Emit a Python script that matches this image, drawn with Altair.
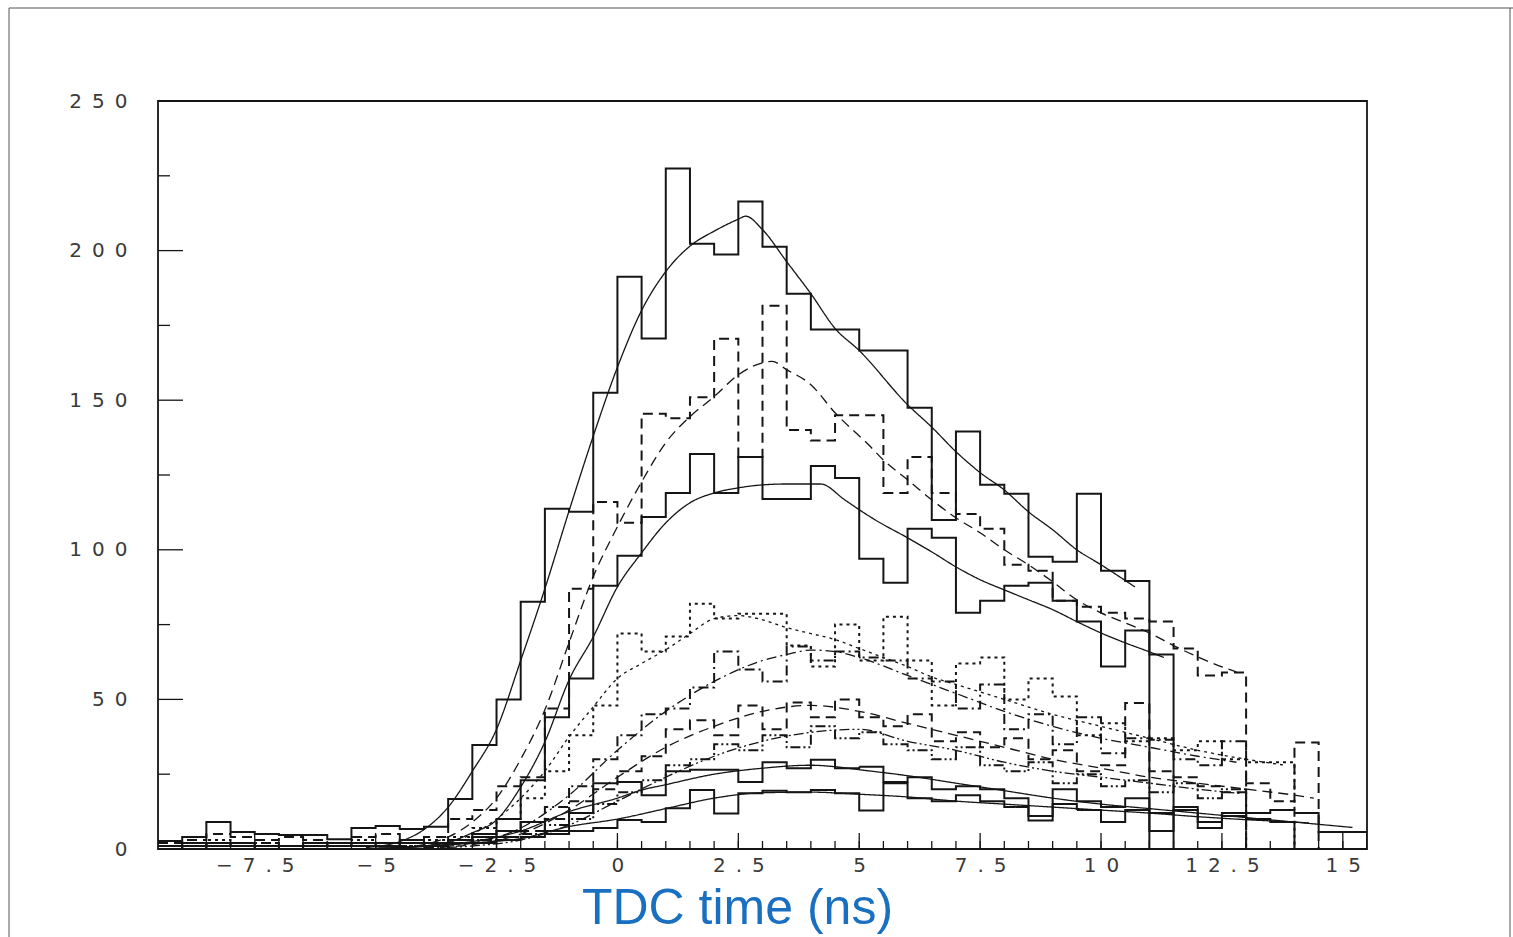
import altair as alt
import pandas as pd

# ---------------- data ----------------
EDGES = [-9.5, -9.0, -8.5, -8.0, -7.5, -7.0, -6.5, -6.0, -5.5, -5.0, -4.5, -4.0,
         -3.5, -3.0, -2.5, -2.0, -1.5, -1.0, -0.5, 0.0, 0.5, 1.0, 1.5, 2.0, 2.5,
         3.0, 3.5, 4.0, 4.5, 5.0, 5.5, 6.0, 6.5, 7.0, 7.5, 8.0, 8.5, 9.0, 9.5,
         10.0, 10.5, 11.0, 11.5, 12.0, 12.5, 13.0, 13.5, 14.0, 14.5, 15.0, 15.5]

X_LABELS = [-7.5, -5, -2.5, 0, 2.5, 5, 7.5, 10, 12.5, 15]
Y_LABELS = [0, 50, 100, 150, 200, 250]
Y_MINOR = [25, 75, 125, 175, 225]
Y_MAJOR = [50, 100, 150, 200]

# histogram contents, bins of 0.5 ns starting at -9.5
H1 = [2.7, 4, 9, 5.7, 5, 4.7, 4.7, 3.3, 7, 7.7, 6.7, 7.4,
      16.7, 34.8, 50, 82.6, 113.7, 112.7, 152.5, 191.3, 170.6, 227.4, 202.3, 198.7,
      216.4, 201.3, 185.6, 173.6, 173.6, 166.6, 166.6, 147.5, 110, 139.5, 121.7,
      118.7, 97.7, 96, 118.7, 93, 89.6]
H2 = [2, 3, 5, 4, 3, 4, 3, 2, 4, 5, 3, 4,
      10, 13, 21, 24, 47, 87, 116, 109, 145.5, 144, 151, 170.5, 131, 181.6, 140,
      136.5, 145, 145, 119, 131, 119, 112, 107, 95, 93, 83, 81, 79, 77, 76, 67, 58, 59]
H3 = [1, 2, 1, 2, 1, 1, 2, 1, 2, 2, 3, 2,
      3, 5, 10, 23, 44, 57, 88, 98, 111, 119, 132, 119, 131, 117, 117, 128, 124,
      97, 89, 107, 104, 79, 83, 88, 89, 83, 76, 61, 73, 65]
H4 = [1, 2, 3, 2, 2, 1, 2, 2, 3, 2, 2, 3,
      4, 7, 10, 17, 26, 38, 48, 72, 66, 71, 82, 77, 78.6, 78.6, 68, 61, 75, 63,
      77.6, 63, 48, 62, 64, 50, 57, 51, 38, 42, 36, 37, 33, 36, 30, 29, 29]
H5 = [0, 1, 1, 0, 1, 1, 0, 1, 1, 2, 1, 2,
      3, 4, 6, 9, 14, 21, 30, 38, 45, 47, 54, 66, 60, 56, 67.7, 63, 66, 64, 63,
      57, 56, 47, 55, 40, 45, 35, 44, 32, 37, 36.5, 30, 28, 36]
H6 = [1, 2, 1, 1, 2, 1, 1, 2, 2, 1, 2, 1,
      2, 3, 4, 6, 10, 16, 20, 26, 31, 40, 43, 38, 48, 40, 49, 44, 50, 44, 41, 45,
      36, 39, 34, 37, 30, 33, 26, 28, 48.8, 26, 24, 21, 19, 22, 16, 35.6]
H7 = [1, 1, 2, 1, 1, 1, 2, 1, 2, 1, 2, 2,
      3, 4, 6, 9, 6, 12, 22, 22.4, 18, 26, 26.5, 26.5, 22.4, 29, 27, 29.8, 27,
      27.5, 22.4, 24, 20, 21, 20, 17, 9.5, 20, 16, 14, 17, 12, 13, 7, 11, 12, 13,
      12, 5.7, 5.7]
H8 = [1, 0, 1, 1, 0, 1, 1, 1, 1, 1, 2, 1,
      2, 2, 3, 4, 5, 6, 7, 9.7, 9, 13.6, 19.7, 11.9, 18.6, 19.5, 19, 19.7, 18.6,
      12.9, 22, 17, 16, 18, 16, 14, 11, 15, 13, 9, 13, 6, 14, 9, 12, 10, 9]
H9 = [0, 1, 0, 1, 1, 0, 1, 1, 1, 1, 1, 2,
      2, 3, 4, 5, 8, 10, 15, 19, 23, 28, 30, 35, 33, 38, 34, 41, 37, 39, 35, 33,
      30, 34, 28, 26, 29, 22, 25, 21, 23, 19, 22, 17, 20]

# fitted curves
C1_X = [-5.2, -4.5, -4, -3.5, -3, -2.5, -2, -1.5, -1, -0.5, 0, 0.5, 1, 1.5, 2, 2.5,
        2.65, 3, 3.5, 4, 4.5, 5, 6, 6.5, 7, 7.5, 8, 8.5, 9, 9.5, 10, 10.7]
C1_Y = [0.5, 2.5, 6.5, 14, 26, 40, 63, 87, 113, 138, 161, 180, 193, 201.5,
        206.5, 210.5, 211.5, 207, 196.3, 185.6, 174, 166.6, 148.5, 141, 132.8, 125.8,
        120, 112.7, 106.7, 100, 95, 87.6]
C2_X = [-4.5, -4, -3.5, -3, -2.5, -2, -1.5, -1, -0.5, 0, 0.5, 1, 1.5, 2, 2.5, 3,
        3.2, 3.5, 4, 4.5, 5.2, 5.5, 6, 6.5, 7, 7.5, 8, 8.5, 9, 9.5, 10, 10.5, 11,
        11.5, 12, 12.5, 12.8]
C2_Y = [0.5, 1.5, 4, 9, 17, 30, 46.5, 69, 91, 107.7, 122.7, 135.8, 144.5, 151.2,
        158.5, 162.5, 163, 160.2, 155.2, 145.8, 135, 130, 123.4, 116.7, 110.7,
        105.7, 100, 95, 89.3, 83.3, 78.9, 75.6, 72.2, 68, 64.2, 60.9, 59.2]
C3_X = [-4.5, -4, -3.5, -3, -2.5, -2, -1.5, -1, -0.5, 0, 0.5, 1, 1.5, 2, 2.5, 3,
        3.5, 4.2, 4.7, 5, 5.33, 6, 6.5, 7, 7.5, 8, 8.5, 9, 9.5, 10, 10.5, 11, 11.3]
C3_Y = [0.4, 1, 2.3, 5.4, 9.7, 20.7, 35.8, 56.5, 70.9, 87.6, 99, 109, 115.7, 119,
        120.7, 121.7, 122, 122, 116.7, 113.4, 110, 104, 99.3, 94.3, 90, 86.6, 83.3,
        80, 76, 72.2, 68.9, 65.9, 64]
C4_X = [-4, -3, -2, -1.5, -1, -0.5, 0, 0.5, 1, 1.5, 2, 2.5, 3, 3.5, 4, 4.5, 5, 5.5,
        6, 6.5, 7, 7.5, 8, 9, 10, 11, 12, 13, 13.8]
C4_Y = [1, 5, 17, 26, 37.5, 47.5, 57, 62, 66.6, 72, 77, 78, 76.6, 74, 72, 70, 67,
        64, 61, 57.5, 55, 52.5, 50, 45, 41, 37, 33, 30, 28]
C5_X = [-4, -3, -2, -1, 0, 1, 2, 3, 3.5, 4, 4.5, 5, 6, 7, 8, 9, 10, 11, 12, 12.8]
C5_Y = [0.5, 2, 7, 18, 33, 46, 56, 63, 65, 66.5, 66, 64, 58, 52, 46, 41, 37, 34,
        31, 29]
C6_X = [-4, -3, -2, -1, 0, 1, 2, 3, 4, 5, 6, 7, 8, 9, 10, 11, 12, 13, 14, 14.4]
C6_Y = [0.3, 1.5, 5, 13, 24, 34, 41, 46, 48, 46, 42, 38, 34, 30, 27, 24, 22, 20,
        18, 17]
C7_X = [-5, -4, -3, -2, -1, 0, 0.5, 1, 2, 3, 4, 4.5, 5, 6, 7, 8, 9, 10, 11, 12, 13,
        14, 15, 15.2]
C7_Y = [0.2, 1, 2.5, 6, 12.5, 17, 19.7, 21.5, 25, 27, 28, 27.5, 26.5, 24.5, 22,
        19.5, 17, 15, 13.5, 12, 10.5, 9, 7.5, 7.2]
C8_X = [-5, -4, -3, -2, -1, 0, 1, 2, 3, 4, 5, 6, 7, 8, 9, 10, 11, 12, 13, 14, 14.3]
C8_Y = [0.3, 0.8, 2, 3.5, 7.5, 10, 13.5, 17, 18.8, 19, 18.3, 17.4, 16, 15, 14, 13,
        12, 10.8, 9.8, 9, 8.7]
C9_X = [-4, -3, -2, -1, 0, 1, 2, 3, 4, 5, 6, 7, 8, 9, 10, 11, 12, 12.9]
C9_Y = [0.3, 1, 3, 8, 16, 24, 31, 36, 39, 40, 36, 33, 29, 26, 24, 22, 20, 18.5]

SOLID = [1, 0]
DASH = [10, 6]
DOT = [3, 4]
DASHDOT = [10, 4, 2, 4]
DASHDOTDOT = [10, 3, 2, 3, 2, 3]

HISTS = [("h1", H1, SOLID), ("h2", H2, DASH), ("h3", H3, SOLID), ("h4", H4, DOT),
         ("h5", H5, DASHDOT), ("h6", H6, DASH), ("h7", H7, SOLID), ("h8", H8, SOLID),
         ("h9", H9, DASHDOTDOT)]
CURVES = [("c1", C1_X, C1_Y, SOLID), ("c2", C2_X, C2_Y, DASH), ("c3", C3_X, C3_Y, SOLID),
          ("c4", C4_X, C4_Y, DOT), ("c5", C5_X, C5_Y, DASHDOT), ("c6", C6_X, C6_Y, DASH),
          ("c7", C7_X, C7_Y, SOLID), ("c8", C8_X, C8_Y, SOLID), ("c9", C9_X, C9_Y, DASHDOTDOT)]

# ---------------- tables ----------------
hrows = []
for name, vals, _ in HISTS:
    for i, v in enumerate(vals):
        hrows.append({"s": name, "x": EDGES[i], "y": v, "o": i})
    hrows.append({"s": name, "x": EDGES[len(vals)], "y": 0, "o": len(vals)})
hdf = pd.DataFrame(hrows)

crows = []
for name, xs, ys, _ in CURVES:
    for i, (a, b) in enumerate(zip(xs, ys)):
        crows.append({"s": name, "x": a, "y": b, "o": i})
cdf = pd.DataFrame(crows)

W, H = 1209, 748
INK = "#151515"
LABEL_FONT = "DejaVu Sans"
SPACED = "join(split(datum.label, ''), '\u2002')"

xscale = alt.Scale(domain=[-9.5, 15.5], nice=False, zero=False)
yscale = alt.Scale(domain=[0, 250], nice=False, zero=True)

xaxis = alt.Axis(values=X_LABELS, format=".1~f", tickSize=0, domain=False, grid=False,
                 labelFont=LABEL_FONT, labelFontSize=20, labelColor="#3a3a3a",
                 labelPadding=6, labelExpr=SPACED, labelFlush=False, labelOverlap=False,
                 title="TDC time (ns)", titleFont="Liberation Sans", titleFontSize=50,
                 titleFontWeight="normal", titleColor="#1A70C0", titleX=579, titleY=74,
                 titleAlign="center", titleBaseline="alphabetic")
yaxis = alt.Axis(values=Y_LABELS, format=".1~f", tickSize=0, domain=False, grid=False,
                 labelFont=LABEL_FONT, labelFontSize=20, labelColor="#3a3a3a",
                 labelPadding=31, labelExpr=SPACED, labelFlush=False, labelOverlap=False,
                 title=None)


def xenc(field):
    return alt.X(field + ":Q", scale=xscale, axis=xaxis)


def yenc(field):
    return alt.Y(field + ":Q", scale=yscale, axis=yaxis)


layers = []
for name, _, dash in HISTS:
    layers.append(
        alt.Chart(hdf).transform_filter(alt.datum.s == name)
        .mark_line(interpolate="step-after", strokeDash=dash, strokeWidth=2,
                   color=INK, clip=True)
        .encode(x=xenc("x"), y=yenc("y"), order="o:Q")
    )
for name, _, _, dash in CURVES:
    layers.append(
        alt.Chart(cdf).transform_filter(alt.datum.s == name)
        .mark_line(interpolate="monotone", strokeDash=dash, strokeWidth=1.3,
                   color=INK, clip=True)
        .encode(x=xenc("x"), y=yenc("y"), order="o:Q")
    )

# inward ticks
xminor = pd.DataFrame({"x": EDGES[1:-1]})
xmajor = pd.DataFrame({"x": X_LABELS})
yminor = pd.DataFrame({"y": Y_MINOR})
ymajor = pd.DataFrame({"y": Y_MAJOR})
layers.append(alt.Chart(xminor).mark_rule(color=INK, strokeWidth=1.3).encode(
    x=xenc("x"), y=alt.value(H), y2=alt.value(H - 8)))
layers.append(alt.Chart(xmajor).mark_rule(color=INK, strokeWidth=1.3).encode(
    x=xenc("x"), y=alt.value(H), y2=alt.value(H - 16)))
layers.append(alt.Chart(yminor).mark_rule(color=INK, strokeWidth=1.3).encode(
    y=yenc("y"), x=alt.value(0), x2=alt.value(12)))
layers.append(alt.Chart(ymajor).mark_rule(color=INK, strokeWidth=1.3).encode(
    y=yenc("y"), x=alt.value(0), x2=alt.value(25)))

# thin outer picture frame
frame = pd.DataFrame({"k": [0]})
layers.append(alt.Chart(frame).mark_rule(color="#555", strokeWidth=1).encode(
    x=alt.value(-149), y=alt.value(-93), y2=alt.value(836)))
layers.append(alt.Chart(frame).mark_rule(color="#555", strokeWidth=1).encode(
    x=alt.value(-149), x2=alt.value(1355), y=alt.value(-93)))
layers.append(alt.Chart(frame).mark_rule(color="#555", strokeWidth=1).encode(
    x=alt.value(1352), y=alt.value(-93), y2=alt.value(836)))

chart = (
    alt.layer(*layers)
    .properties(width=W, height=H, autosize="none",
                padding={"left": 158, "top": 101, "right": 146, "bottom": 88},
                background="white")
    .configure_view(stroke=INK, strokeWidth=1.8)
)

chart.save("out.html", embed_options={"renderer": "svg", "actions": False})
